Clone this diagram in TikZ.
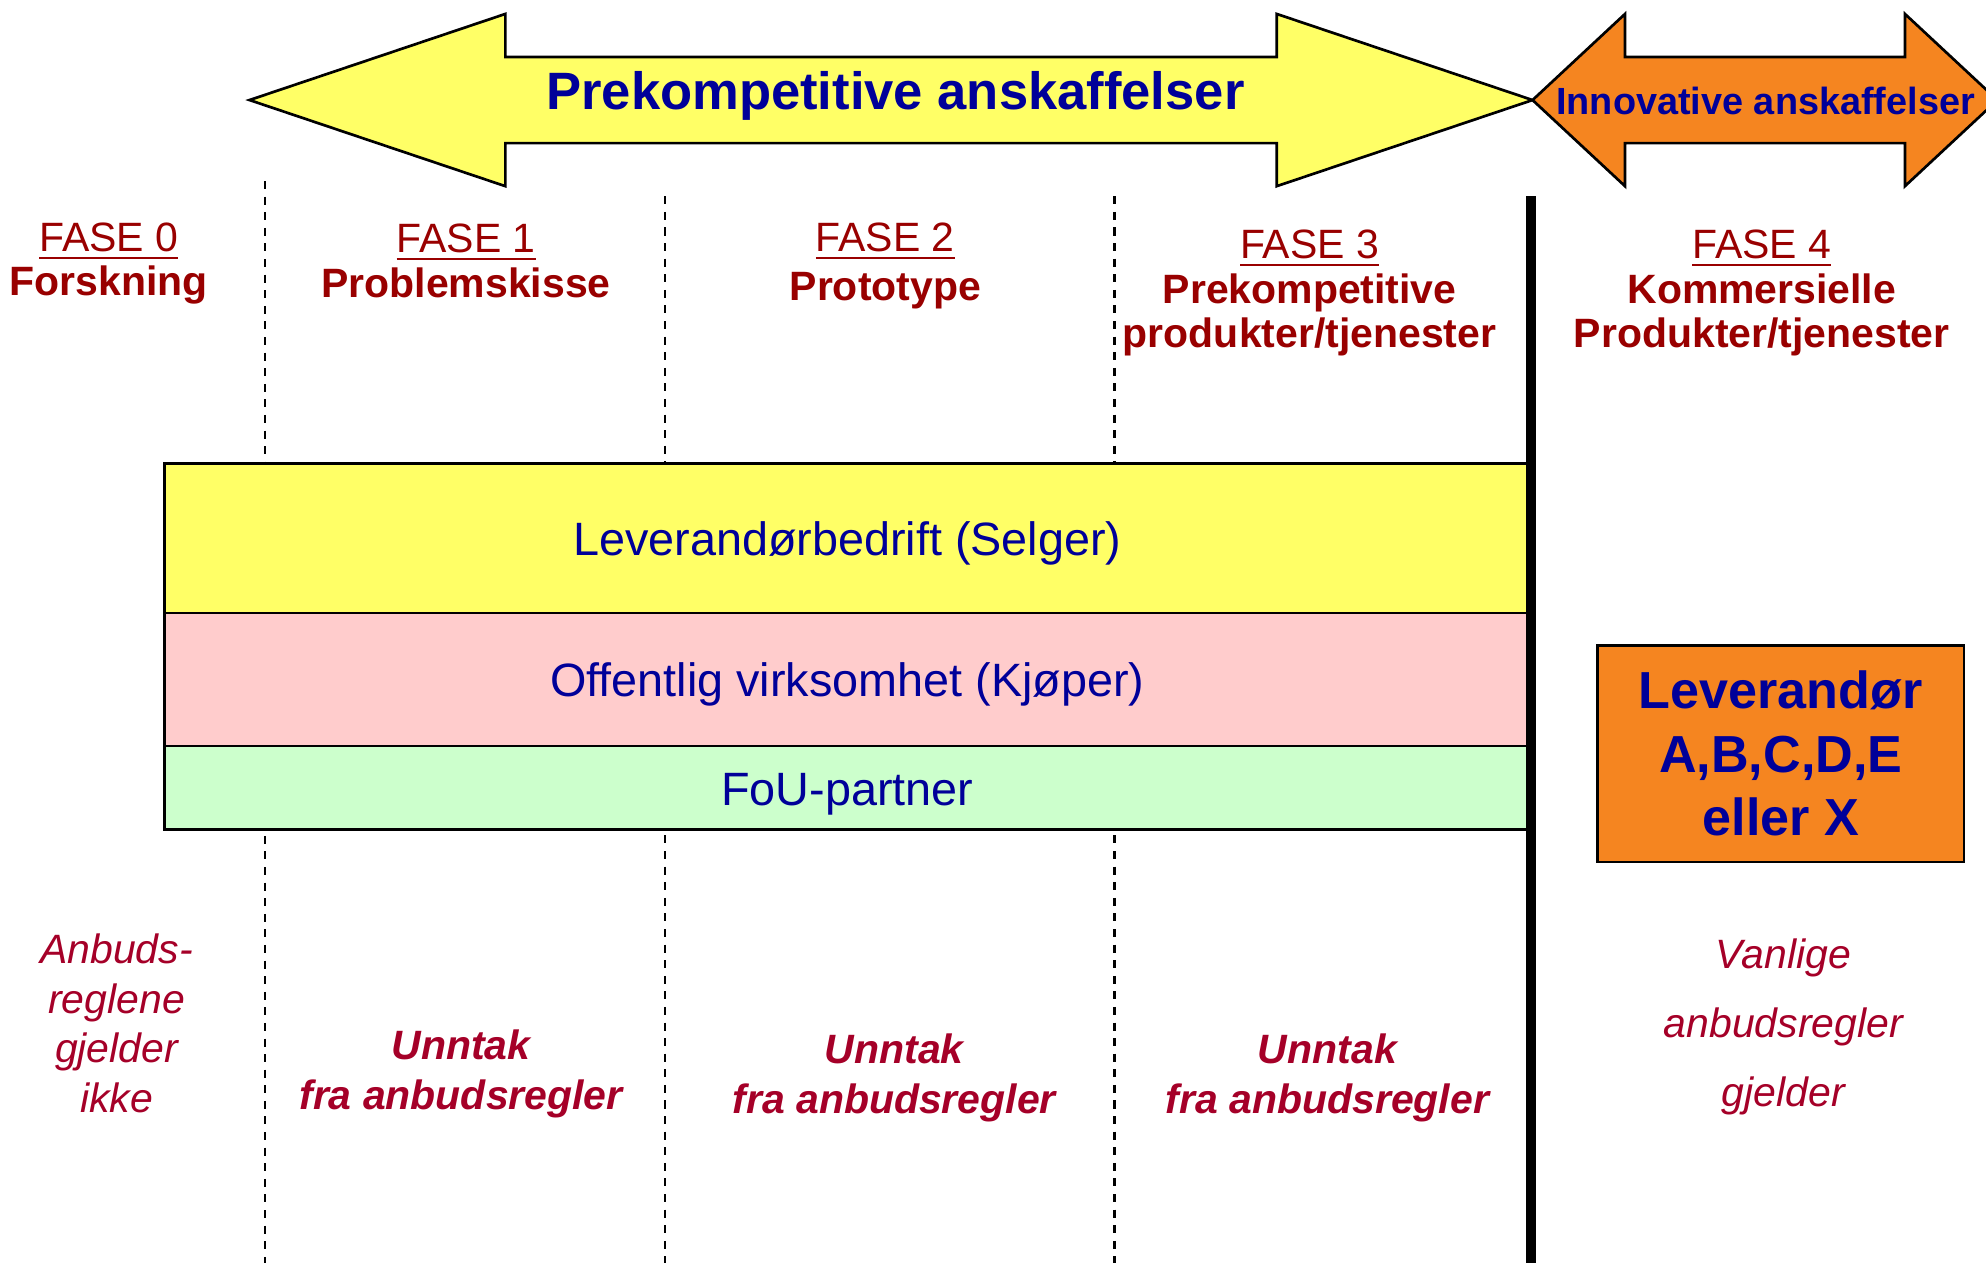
\documentclass[tikz,border=0pt]{standalone}
\usepackage{fontspec}
\setmainfont{Liberation Sans}
\definecolor{TxtBlue}{RGB}{0,0,153}
\definecolor{TxtRed} {RGB}{153,0,0}
\definecolor{RuleRed}{RGB}{165,0,40}
\definecolor{ArrYel} {RGB}{255,255,102}
\definecolor{ArrOra} {RGB}{245,133,32}
\definecolor{BandPnk}{RGB}{255,204,204}
\definecolor{BandGrn}{RGB}{204,255,204}
\tikzset{
  nd_fase/.style={align=center,text=TxtRed,inner sep=0pt,font=\fontsize{9.2}{10}\selectfont},
  nd_band/.style={rectangle,draw=black,line width=0.6pt,outer sep=0pt,minimum width=10.78cm,inner sep=0pt,
    text height=10pt,text depth=2.2pt,text=TxtBlue,font=\fontsize{10.5}{12}\selectfont},
  nd_rule/.style={align=center,text=RuleRed,inner sep=0pt,font=\fontsize{9.2}{11.1}\selectfont\itshape},
  nd_exc/.style={nd_rule,font=\fontsize{9.2}{11.1}\selectfont\bfseries\itshape},
  sep_dash/.style={line width=0.5pt,dash pattern=on 1.8pt off 1.7pt},
  arr_shape/.style={draw=black,line width=0.6pt,line join=miter},
}

\begin{document}
\begin{tikzpicture}[x=0.01cm,y=-0.01cm]
\def\cA{209}\def\cB{525}\def\cC{880}\def\cD{1209}
\useasboundingbox (0,0) rectangle (1568,997);
\clip (0,0) rectangle (1568,997);
% top arrows
\filldraw[arr_shape,fill=ArrYel](197,79)--(399,11)--(399,45)--(1008,45)--(1008,11)--(1210,79)--(1008,147)--(1008,113)--(399,113)--(399,147)--cycle;
\filldraw[arr_shape,fill=ArrOra](1210,79)--(1283,11)--(1283,45)--(1504,45)--(1504,11)--(1577,79)--(1504,147)--(1504,113)--(1283,113)--(1283,147)--cycle;
\node[text=TxtBlue,font=\fontsize{11.8}{14}\selectfont\bfseries] at (707,76)(PK){Prekompetitive anskaffelser};
\node[text=TxtBlue,font=\fontsize{8.5}{10}\selectfont\bfseries] at (1394,80)(IA){Innovative anskaffelser};
% phase dividers
\draw[sep_dash](\cA,143)--(\cA,997);
\foreach \x in {\cB,\cC}{\draw[sep_dash](\x,155)--(\x,997);}
% phases
\node[nd_fase] at (86,208)(F0){\underline{FASE 0}\\\textbf{Forskning}};
\node[nd_fase] at (368,206)(F1){\underline{FASE 1}\\\textbf{Problemskisse}};
\node[nd_fase] at (699,210)(F2){\underline{FASE 2}\\[1.2pt]\textbf{Prototype}};
\node[nd_fase] at (1034,231.5)(F3){\underline{FASE 3}\\\textbf{Prekompetitive}\\\textbf{produkter/tjenester}};
\node[nd_fase] at (1391,231.5)(F4){\underline{FASE 4}\\\textbf{Kommersielle}\\\textbf{Produkter/tjenester}};
% bands
\node[nd_band,fill=ArrYel,minimum height=1.18cm] at (669,425)(LB){Leverandørbedrift (Selger)};
\node[nd_band,fill=BandPnk,minimum height=1.05cm,anchor=north] at (LB.south)(OV){Offentlig virksomhet (Kjøper)};
\node[nd_band,fill=BandGrn,minimum height=0.66cm,anchor=north] at (OV.south)(FP){FoU-partner};
\draw[line width=2.3pt](\cD,155)--(\cD,997);
\node[draw=black,line width=0.6pt,fill=ArrOra,minimum width=2.89cm,minimum height=1.71cm,align=center,
  text=TxtBlue,font=\fontsize{11.7}{14.2}\selectfont\bfseries] at (1406,595)(LV){Leverandør\\A,B,C,D,E\\eller X};
% rules
\node[nd_rule] at (92,808)(R0){Anbuds-\\reglene\\gjelder\\ikke};
\node[nd_exc] at (364,848)(R1){Unntak\\fra anbudsregler};
\node[nd_exc] at (706,851)(R2){Unntak\\fra anbudsregler};
\node[nd_exc] at (1048,851)(R3){Unntak\\fra anbudsregler};
\node[nd_rule,font=\fontsize{9.2}{15.5}\selectfont\itshape] at (1408,810.5)(R4){Vanlige\\anbudsregler\\gjelder};
\end{tikzpicture}
\end{document}
